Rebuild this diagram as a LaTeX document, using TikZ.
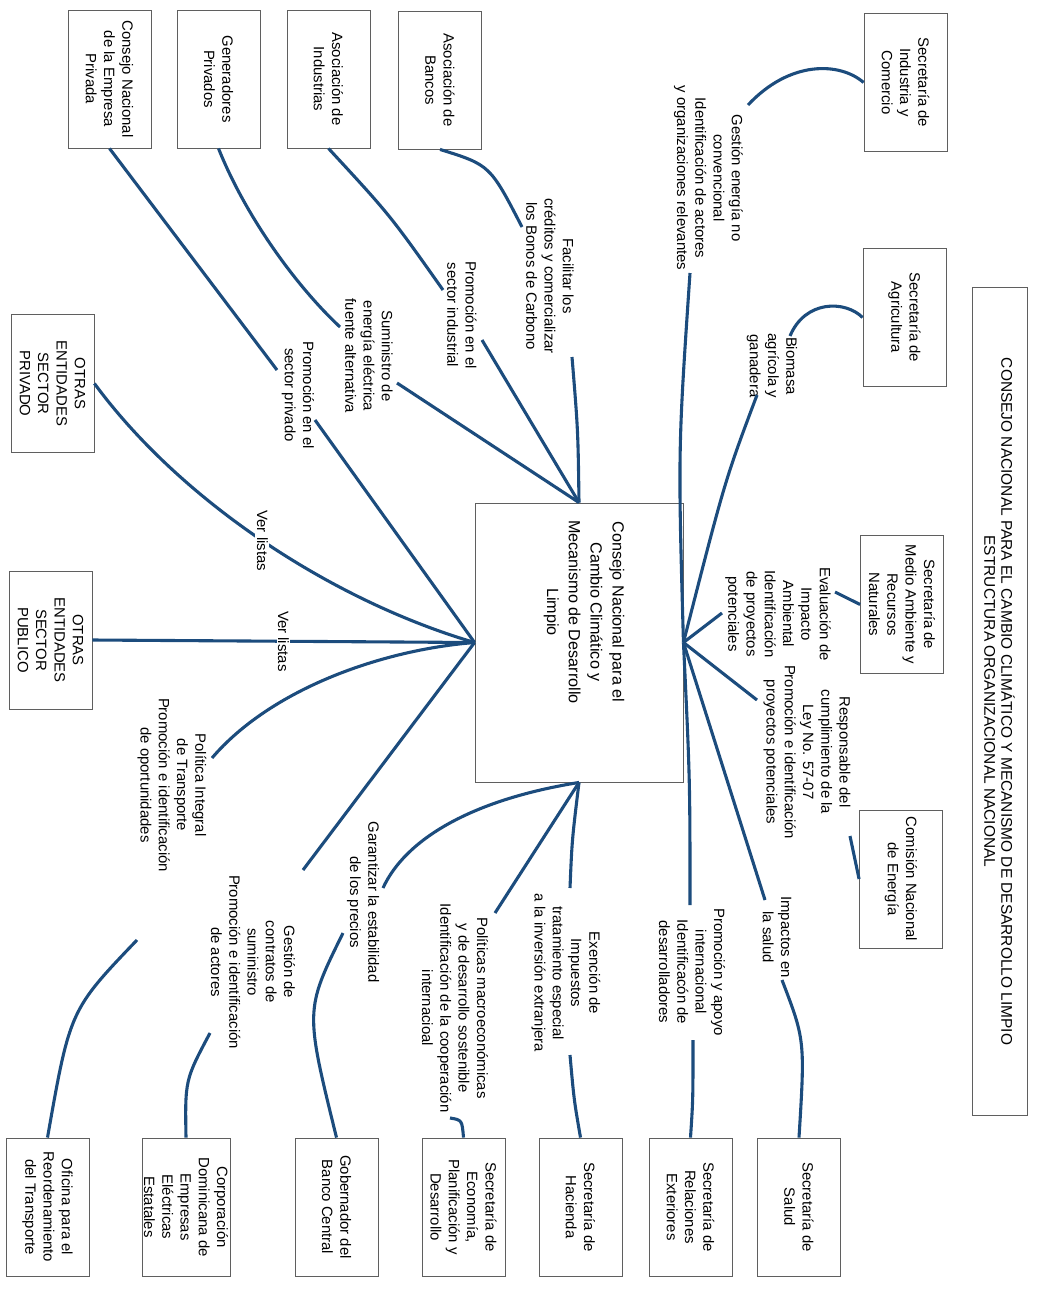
\documentclass[tikz,border=0pt]{standalone}
\usepackage{fontspec}
\setmainfont{Liberation Sans}
\usetikzlibrary{positioning}
\definecolor{azul}{RGB}{28,76,125}
\definecolor{borde}{RGB}{95,95,95}

\begin{document}
\begin{tikzpicture}[x=0.025cm,y=-0.025cm,
  caja/.style={draw=borde,line width=0.6pt,rotate=-90,align=center,inner sep=0pt,
    minimum width=3.45cm,minimum height=2.075cm,font=\fontsize{10.6}{13}\selectfont},
  etiq/.style={rotate=-90,align=center,inner sep=1pt,font=\fontsize{10.6}{13}\selectfont},
  enlace/.style={draw=azul,line width=2.2pt}]
\useasboundingbox (0,0) rectangle (1037,1289);

% titulo
\node[draw=borde,line width=0.6pt,rotate=-90,align=center,inner sep=0pt,
  minimum width=20.675cm,minimum height=1.375cm,font=\fontsize{11}{12}\selectfont]
  (titulo) at (999.5,701.5)
  {CONSEJO NACIONAL PARA EL CAMBIO CLIMÁTICO Y MECANISMO DE DESARROLLO LIMPIO\\
   ESTRUCTURA ORGANIZACIONAL NACIONAL};

% consejo central
\node[draw=borde,line width=0.6pt,inner sep=0pt,minimum width=5.2cm,minimum height=6.975cm]
  (cnmdl) at (579,642.5) {};
\node[rotate=-90,align=center,font=\fontsize{11.5}{15.5}\selectfont] (cnmdl-txt) at (584,612)
  {Consejo Nacional para el\\Cambio Climático y\\Mecanismo de Desarrollo\\Limpio};

% entidades privadas (arriba)
\node[caja] (cnep) at (109.5,79) {Consejo Nacional\\de la Empresa\\Privada};
\node[caja] (genp) at (218.5,79) {Generadores\\Privados};
\node[caja] (asind) at (328.5,79) {Asociación de\\Industrias};
\node[caja] (asban) at (440,80) {Asociación de\\Bancos};

% secretarias (derecha)
\node[caja] (secic) at (905.5,82.5) {Secretaría de\\Industria y\\Comercio};
\node[caja] (secag) at (904.5,317.5) {Secretaría de\\Agricultura};
\node[caja] (secma) at (902,604.5) {Secretaría de\\Medio Ambiente y\\Recursos\\Naturales};
\node[caja] (cne) at (901,879) {Comisión Nacional\\de Energía};

% entidades publicas (abajo)
\node[caja] (salud) at (799,1207) {Secretaría de\\Salud};
\node[caja] (relext) at (690.5,1207) {Secretaría de\\Relaciones\\Exteriores};
\node[caja] (hacienda) at (580.5,1207) {Secretaría de\\Hacienda};
\node[caja] (econ) at (463.5,1207) {Secretaría de\\Economía,\\Planificación y\\Desarrollo};
\node[caja] (bcentral) at (336.5,1207) {Gobernador del\\Banco Central};
\node[caja,minimum height=2.2cm] (cdeee) at (186,1207) {Corporación\\Dominicana de\\Empresas\\Eléctricas\\Estatales};
\node[caja] (opret) at (47.5,1207) {Oficina para el\\Reordenamiento\\del Transporte};

% otras entidades (izquierda)
\node[caja] (otrpriv) at (52.5,383.5) {OTRAS\\ENTIDADES\\SECTOR\\PRIVADO};
\node[caja] (otrpub) at (50.5,640) {OTRAS\\ENTIDADES\\SECTOR\\PUBLICO};

% etiquetas de las funciones
\node[etiq] (l-gest) at (708.5,178) {Gestión energía no\\convencional\\Identificación de actores\\y organizaciones relevantes};
\node[etiq] (l-biom) at (772,366) {Biomasa\\agrícola y\\ganadera};
\node[etiq] (l-eval) at (778,614) {Evaluación de\\Impacto\\Ambiental\\Identificación\\de proyectos\\potenciales};
\node[etiq] (l-resp) at (807,752) {Responsable del\\cumplimiento de la\\Ley No. 57-07\\Promoción e identificación\\proyectos potenciales};
\node[etiq] (l-salud) at (777,937) {Impactos en\\la salud};
\node[etiq] (l-prom) at (692,972) {Promoción y apoyo\\internacional\\Identificacón de\\desarrolladores};
\node[etiq] (l-exen) at (566,973) {Exención de\\Impuestos\\tratamiento especial\\a la inversión extranjera};
\node[etiq] (l-macro) at (455,1008) {Políticas macroeconómicas\\y de desarrollo sostenible\\Identificación de la cooperación\\internacioal};
\node[etiq] (l-prec) at (363,902) {Garantizar la estabilidad\\de los precios};
\node[etiq] (l-contr) at (253,962) {Gestión de\\contratos de\\suministro\\Promoción e identificación\\de actores};
\node[etiq] (l-transp) at (172,785) {Política Integral\\de Transporte\\Promoción e identificación\\de oportunidades};
\node[etiq] (l-priv) at (298,395) {Promoción en el\\sector privado};
\node[etiq] (l-sum) at (369,356) {Suministro de\\energía eléctrica\\fuente alternativa};
\node[etiq] (l-ind) at (462,315) {Promoción en el\\sector industrial};
\node[etiq] (l-banc) at (550,276) {Facilitar los\\créditos y comercializar\\los Bonos de Carbono};

% extremos libres de los enlaces
\coordinate (gest-a) at (748,105);   \coordinate (gest-b) at (690,273);
\coordinate (biom-a) at (790,336);   \coordinate (biom-b) at (757,395);
\coordinate (eval-a) at (835,592);   \coordinate (eval-b) at (722,613);
\coordinate (resp-a) at (850,836);   \coordinate (resp-b) at (757,700);
\coordinate (salud-a) at (765,900);  \coordinate (salud-b) at (782,980);
\coordinate (prom-a) at (690,905);   \coordinate (prom-b) at (693,1040);
\coordinate (exen-a) at (570,888);   \coordinate (exen-b) at (570,1055);
\coordinate (macro-a) at (495,913);  \coordinate (macro-b) at (450,1118);
\coordinate (prec-a) at (383,888);   \coordinate (prec-b) at (343,933);
\coordinate (contr-a) at (303,870);  \coordinate (contr-b) at (210,1033);
\coordinate (transp-a) at (212,758); \coordinate (transp-b) at (137,940);
\coordinate (priv-a) at (277,370);   \coordinate (priv-b) at (315,420);
\coordinate (sum-a) at (340,327);    \coordinate (sum-b) at (397,383);
\coordinate (ind-a) at (443,290);    \coordinate (ind-b) at (482,340);
\coordinate (banc-a) at (522,227);   \coordinate (banc-b) at (572,357);

% enlaces lado derecho
\draw[enlace] (secic.south) .. controls (840,62) and (790,60) .. (gest-a);
\draw[enlace] (gest-b) .. controls (678,450) .. (cnmdl.east);
\draw[enlace] (secag.south) .. controls (845,300) and (805,300) .. (biom-a);
\draw[enlace] (biom-b) .. controls (725,480) .. (cnmdl.east);
\draw[enlace] (secma.south) -- (eval-a);
\draw[enlace] (eval-b) -- (cnmdl.east);
\draw[enlace] (cne.south) -- (resp-a);
\draw[enlace] (cnmdl.east) -- (resp-b);
\draw[enlace] (cnmdl.east) -- (salud-a);
\draw[enlace] (salud-b) .. controls (805,1040) .. (salud.west);
\draw[enlace] (cnmdl.east) .. controls (690,780) .. (prom-a);
\draw[enlace] (prom-b) .. controls (693,1100) .. (relext.west);

% enlaces lado inferior
\draw[enlace] (cnmdl.south) .. controls (572,840) .. (exen-a);
\draw[enlace] (exen-b) .. controls (574,1100) .. (hacienda.west);
\draw[enlace] (cnmdl.south) -- (macro-a);
\draw[enlace] (macro-b) .. controls (462,1120) .. (econ.west);
\draw[enlace] (cnmdl.south) .. controls (470,800) and (405,840) .. (prec-a);
\draw[enlace] (prec-b) .. controls (305,1010) .. (bcentral.west);

% enlaces lado izquierdo
\draw[enlace] (cnmdl.west) -- (contr-a);
\draw[enlace] (contr-b) .. controls (185,1080) .. (cdeee.west);
\draw[enlace] (cnmdl.west) .. controls (380,650) and (270,690) .. (transp-a);
\draw[enlace] (transp-b) .. controls (70,1010) .. (opret.west);
\draw[enlace] (otrpriv.north) .. controls (180,500) and (330,600) .. (cnmdl.west)
  node[etiq,pos=0.5,fill=white] (l-ver1) {Ver listas};
\draw[enlace] (otrpub.north) -- (cnmdl.west)
  node[etiq,pos=0.5,fill=white] (l-ver2) {Ver listas};
\draw[enlace] (cnep.east) -- (priv-a);
\draw[enlace] (priv-b) -- (cnmdl.west);

% enlaces lado superior
\draw[enlace] (genp.east) .. controls (245,215) and (295,285) .. (sum-a);
\draw[enlace] (sum-b) -- (cnmdl.north);
\draw[enlace] (asind.east) .. controls (390,215) .. (ind-a);
\draw[enlace] (ind-b) -- (cnmdl.north);
\draw[enlace] (asban.east) .. controls (490,165) .. (banc-a);
\draw[enlace] (banc-b) .. controls (578,430) .. (cnmdl.north);
\end{tikzpicture}
\end{document}
